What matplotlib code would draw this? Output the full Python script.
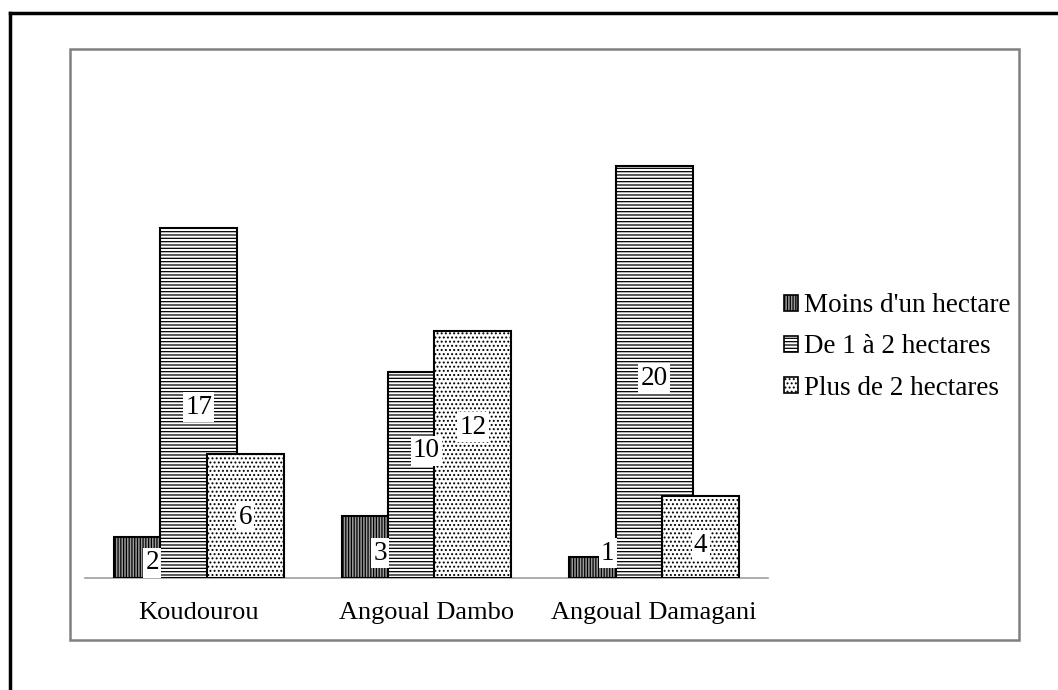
import matplotlib
matplotlib.use("Agg")
import matplotlib.pyplot as plt
from matplotlib.lines import Line2D
from matplotlib.patches import Patch
import numpy as np

categories = ["Koudourou", "Angoual Dambo", "Angoual Damagani"]
series_names = ["Moins d'un hectare", "De 1 à 2 hectares", "Plus de 2 hectares"]
moins = [2, 3, 1]
de1a2 = [17, 10, 20]
plus2 = [6, 12, 4]
values = [moins, de1a2, plus2]
# label vertical placement (data units), as shifted in the reference
label_y = [[0.73, 1.21, 1.21], [8.3, 6.17, 9.7], [2.96, 7.33, 1.6]]

plt.rcParams['font.family'] = ['Liberation Serif', 'DejaVu Serif']
plt.rcParams['hatch.linewidth'] = 0.9

W, H = 1058, 690
fig = plt.figure(figsize=(W / 100, H / 100), dpi=100)

# outer black frame (top and left visible)
fig.add_artist(Line2D([10 / W, 1.0], [1 - 13 / H, 1 - 13 / H], color='black', lw=2.5,
                      transform=fig.transFigure))
fig.add_artist(Line2D([10 / W, 10 / W], [0, 1 - 13 / H], color='black', lw=2.5,
                      transform=fig.transFigure))
# inner gray chart-area box
fig.add_artist(plt.Rectangle((70 / W, 1 - 640 / H), (1019 - 70) / W, (640 - 49) / H,
                             fill=False, edgecolor='#808080', lw=1.8,
                             transform=fig.transFigure))

left, right, base, top = 85, 768, 578, 125
ax = fig.add_axes([left / W, 1 - base / H, (right - left) / W, (base - top) / H])
ax.set_xlim(-0.5, 2.5)
ax.set_ylim(0, 22)

width = 0.338
offset = 0.204
hatches = ['||||||', '-----', '....']
faces = ['#9a9a9a', 'white', 'white']
x = np.arange(len(categories))
handles = []
for i, (vals, h, fc) in enumerate(zip(values, hatches, faces)):
    xs = x + (i - 1) * offset
    ax.bar(xs, vals, width=width, color=fc, edgecolor='black', hatch=h, lw=1.5,
           zorder=2 + i)
    handles.append(Patch(facecolor=fc, edgecolor='black', hatch=h, lw=1.2))

for i in range(3):
    for j in range(3):
        xs = x[j] + (i - 1) * offset
        ax.text(xs, label_y[i][j], str(values[i][j]), ha='center', va='center',
                fontsize=19.5, zorder=10,
                bbox=dict(facecolor='white', edgecolor='none', pad=1.5))

for s in ['top', 'right', 'left']:
    ax.spines[s].set_visible(False)
ax.spines['bottom'].set_color('#a0a0a0')
ax.spines['bottom'].set_linewidth(1.2)
ax.spines['bottom'].set_zorder(1)
ax.set_yticks([])
ax.set_xticks(x)
ax.set_xticklabels(categories, fontsize=19)
ax.tick_params(axis='x', length=0, pad=17)

fig.legend(handles, series_names, loc='center left',
           bbox_to_anchor=(770 / W, 1 - 347 / H), frameon=False, fontsize=19.5,
           handlelength=0.55, handleheight=0.55, handletextpad=0.2,
           labelspacing=0.6, borderpad=0)

fig.savefig("out.png", dpi=100, facecolor='white')
